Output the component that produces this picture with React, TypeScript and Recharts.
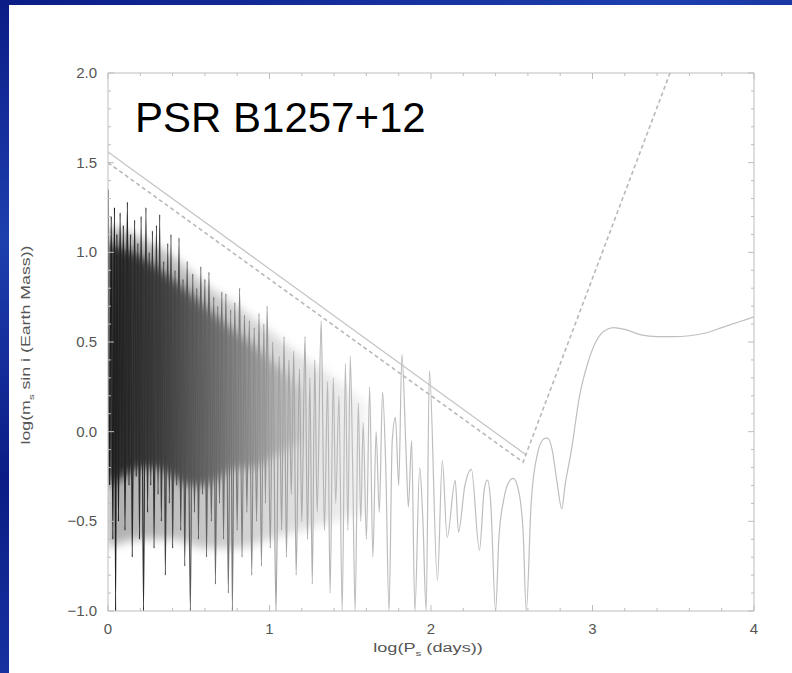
import { ComposedChart, Line, Area, XAxis, YAxis } from "recharts";

// sensitivity curve (log P, log m sin i)
const sensX = [
  0.0, 0.01, 0.02, 0.03, 0.04, 0.047, 0.055, 0.065, 0.075, 0.085, 0.095, 0.105,
  0.12, 0.13, 0.14, 0.15, 0.165, 0.175, 0.185, 0.195, 0.205, 0.22, 0.235, 0.245,
  0.255, 0.265, 0.275, 0.285, 0.3, 0.31, 0.32, 0.33, 0.345, 0.355, 0.37, 0.38,
  0.39, 0.4, 0.415, 0.425, 0.44, 0.45, 0.465, 0.475, 0.49, 0.51, 0.525, 0.535,
  0.55, 0.56, 0.575, 0.585, 0.6, 0.61, 0.625, 0.64, 0.655, 0.665, 0.68, 0.69,
  0.705, 0.715, 0.73, 0.745, 0.76, 0.77, 0.785, 0.8, 0.815, 0.83, 0.845, 0.86,
  0.875, 0.89, 0.905, 0.92, 0.935, 0.95, 0.965, 0.975, 0.985, 1.005, 1.02, 1.04,
  1.06, 1.075, 1.09, 1.105, 1.12, 1.135, 1.15, 1.165, 1.185, 1.2, 1.22, 1.235,
  1.25, 1.265, 1.28, 1.295, 1.32, 1.34, 1.36, 1.375, 1.395, 1.41, 1.43, 1.45,
  1.47, 1.485, 1.5, 1.515, 1.53, 1.55, 1.565, 1.58, 1.6, 1.62, 1.64, 1.66,
  1.68, 1.7, 1.72, 1.74, 1.76, 1.78, 1.8, 1.82, 1.845, 1.86, 1.88, 1.9,
  1.93, 1.95, 1.97, 1.99, 2.04, 2.07, 2.1, 2.15, 2.17, 2.21, 2.25, 2.3,
  2.33, 2.35, 2.37, 2.4, 2.42, 2.45, 2.49, 2.51, 2.54, 2.57, 2.59, 2.62,
  2.66, 2.7, 2.72, 2.75, 2.78, 2.81, 2.83, 2.87, 2.92, 2.97, 3.02, 3.07,
  3.13, 3.2, 3.3, 3.4, 3.5, 3.6, 3.7, 3.8, 3.9, 4.0,
];
const sensY = [
  1.35, -0.3, 1.2, -0.6, 1.25, -1.0, 1.1, -0.5, 1.22, -0.2, 1.15, -0.55,
  1.28, -0.3, 1.1, -0.7, 1.18, -0.25, 1.05, -0.6, 1.2, -1.0, 1.25, -0.45,
  1.0, -0.3, 1.12, -0.65, 1.15, -0.35, 1.21, -0.5, 0.95, -0.8, 1.05, -0.4,
  1.1, -0.65, 0.9, -0.3, 1.08, -0.55, 0.85, -0.75, 0.95, -1.0, 0.88, -0.45,
  0.8, -0.6, 0.92, -0.35, 0.85, -0.7, 0.89, -0.5, 0.75, -0.85, 0.7, -0.4,
  0.78, -0.6, 0.77, -0.9, 0.68, -1.0, 0.72, -0.55, 0.8, -0.7, 0.65, -0.45,
  0.62, -0.8, 0.58, -0.5, 0.66, -0.75, 0.6, -0.4, 0.7, -0.65, 0.5, -1.0,
  0.42, -0.55, 0.53, -0.7, 0.4, -0.35, 0.45, -0.8, 0.35, -0.5, 0.53, -0.6,
  0.3, -0.85, 0.4, -0.45, 0.62, -0.55, 0.28, -0.9, 0.3, -0.4, 0.2, -1.0,
  0.38, -0.55, 0.42, -0.2, -1.0, 0.16, -0.5, 0.05, -0.6, 0.25, -0.7, 0.0,
  -0.45, 0.22, -0.2, -1.0, -0.05, 0.08, -0.3, 0.43, -0.1, -0.42, -0.05, -1.0,
  -0.2, -0.5, -1.0, 0.34, -0.83, -0.16, -0.59, -0.27, -0.56, -0.3, -0.21, -0.66,
  -0.32, -0.27, -0.4, -1.0, -0.6, -0.38, -0.27, -0.26, -0.32, -0.55, -1.0, -0.4,
  -0.12, -0.04, -0.035, -0.1, -0.28, -0.43, -0.3, -0.1, 0.2, 0.38, 0.5, 0.56,
  0.58, 0.57, 0.54, 0.53, 0.53, 0.535, 0.55, 0.58, 0.61, 0.64,
];

// the dark, densely sampled mass at short periods
const coreX = [0, 0.1, 0.2, 0.3, 0.4, 0.5, 0.6, 0.7, 0.8, 0.9, 1.0, 1.1, 1.2];
const coreHi = [1.05, 1.02, 0.98, 0.92, 0.85, 0.78, 0.7, 0.62, 0.55, 0.48, 0.4, 0.32, 0.22];
const coreLo = [-0.3, -0.25, -0.2, -0.2, -0.25, -0.3, -0.3, -0.25, -0.2, -0.2, -0.15, -0.1, -0.05];

const hazeX = [0, 0.2, 0.4, 0.6, 0.8, 1.0, 1.2, 1.4, 1.6];
const hazeHi = [1.15, 1.08, 0.98, 0.82, 0.7, 0.56, 0.42, 0.3, 0.15];
const hazeLo = [-0.65, -0.6, -0.6, -0.65, -0.65, -0.6, -0.55, -0.5, -0.45];

// detection limit lines
const solidX = [0, 2.59];
const solidY = [1.56, -0.13];
const dashX = [0, 2.57, 3.48];
const dashY = [1.5, -0.17, 2.0];

const xTicks = [
  0, 0.2, 0.4, 0.6, 0.8, 1, 1.2, 1.4, 1.6, 1.8, 2, 2.2, 2.4, 2.6, 2.8, 3, 3.2,
  3.4, 3.6, 3.8, 4,
];
const yTicks = [
  -1, -0.9, -0.8, -0.7, -0.6, -0.5, -0.4, -0.3, -0.2, -0.1, 0, 0.1, 0.2, 0.3,
  0.4, 0.5, 0.6, 0.7, 0.8, 0.9, 1, 1.1, 1.2, 1.3, 1.4, 1.5, 1.6, 1.7, 1.8, 1.9, 2,
];

const sensData = sensX.map((x, i) => ({ x, y: sensY[i] }));
const coreData = coreX.map((x, i) => ({ x, band: [coreLo[i], coreHi[i]] }));
const hazeData = hazeX.map((x, i) => ({ x, band: [hazeLo[i], hazeHi[i]] }));
const solidData = solidX.map((x, i) => ({ x, y: solidY[i] }));
const dashData = dashX.map((x, i) => ({ x, y: dashY[i] }));

const FRAME = "#bdbdbd";
const TICK_TEXT = "#555";
const FONT = "'Liberation Sans', Arial, sans-serif";

const near = (a: number, b: number) => Math.abs(a - b) < 1e-6;
const isMajorX = (v: number) => near(v, Math.round(v));
const isMajorY = (v: number) => near(v * 2, Math.round(v * 2));
const fmtY = (v: number) => v.toFixed(1).replace("-", "\u2212");

function BottomTick(props: any) {
  const { x, y, payload } = props;
  const major = isMajorX(payload.value);
  return (
    <g>
      <line x1={x} y1={y} x2={x} y2={y - (major ? 6 : 3)} stroke={FRAME} />
      {major && (
        <text x={x} y={y + 23} textAnchor="middle" fontSize={15} fill={TICK_TEXT} fontFamily={FONT}>
          {payload.value}
        </text>
      )}
    </g>
  );
}

function TopTick(props: any) {
  const { x, y, payload } = props;
  const major = isMajorX(payload.value);
  return <line x1={x} y1={y} x2={x} y2={y + (major ? 6 : 3)} stroke={FRAME} />;
}

function LeftTick(props: any) {
  const { x, y, payload } = props;
  const major = isMajorY(payload.value);
  return (
    <g>
      <line x1={x} y1={y} x2={x + (major ? 6 : 3)} y2={y} stroke={FRAME} />
      {major && (
        <text x={x - 11} y={y + 5} textAnchor="end" fontSize={15} fill={TICK_TEXT} fontFamily={FONT}>
          {fmtY(payload.value)}
        </text>
      )}
    </g>
  );
}

function RightTick(props: any) {
  const { x, y, payload } = props;
  const major = isMajorY(payload.value);
  return <line x1={x} y1={y} x2={x - (major ? 6 : 3)} y2={y} stroke={FRAME} />;
}

export default function App() {
  return (
    <div
      style={{
        position: "absolute",
        left: 0,
        top: 0,
        width: 792,
        height: 673,
        overflow: "hidden",
        background:
          "linear-gradient(160deg, #0b1c86 0%, #1d3fae 25%, #0b1c86 50%, #1838a4 75%, #0b1c86 100%)",
      }}
    >
      <style>{`body{margin:0}`}</style>
      <div
        style={{
          position: "absolute",
          left: 9,
          top: 5,
          right: 0,
          bottom: 0,
          background: "#ffffff",
        }}
      />
      <div style={{ position: "absolute", left: 0, top: 0 }}>
        <ComposedChart
          width={792}
          height={673}
          margin={{ top: 53, right: 18, bottom: 32, left: 48 }}
        >
          <defs>
            <filter id="soft" x="-10%" y="-10%" width="120%" height="120%">
              <feGaussianBlur stdDeviation="5" />
            </filter>
            <linearGradient id="lineFade" x1="0" y1="0" x2="1" y2="0">
              <stop offset="0" stopColor="#1a1a1a" />
              <stop offset="0.08" stopColor="#3a3a3a" />
              <stop offset="0.18" stopColor="#707070" />
              <stop offset="0.26" stopColor="#a0a0a0" />
              <stop offset="0.36" stopColor="#bcbcbc" />
              <stop offset="1" stopColor="#c0c0c0" />
            </linearGradient>
            <linearGradient id="coreFade" x1="0" y1="0" x2="1" y2="0">
              <stop offset="0" stopColor="#101010" />
              <stop offset="0.3" stopColor="#2e2e2e" />
              <stop offset="0.55" stopColor="#5e5e5e" />
              <stop offset="0.8" stopColor="#959595" />
              <stop offset="1" stopColor="#c8c8c8" />
            </linearGradient>
            <linearGradient id="hazeFade" x1="0" y1="0" x2="1" y2="0">
              <stop offset="0" stopColor="#606060" />
              <stop offset="0.5" stopColor="#a0a0a0" />
              <stop offset="1" stopColor="#e6e6e6" />
            </linearGradient>
          </defs>
          <XAxis
            xAxisId="b"
            type="number"
            dataKey="x"
            domain={[0, 4]}
            ticks={xTicks}
            interval={0}
            tickSize={0}
            tickMargin={0}
            tickLine={false}
            stroke={FRAME}
            tick={<BottomTick />}
            height={30}
            allowDataOverflow
          />
          <XAxis
            xAxisId="t"
            orientation="top"
            type="number"
            dataKey="x"
            domain={[0, 4]}
            ticks={xTicks}
            interval={0}
            tickSize={0}
            tickMargin={0}
            tickLine={false}
            stroke={FRAME}
            tick={<TopTick />}
            height={20}
            allowDataOverflow
          />
          <YAxis
            yAxisId="l"
            type="number"
            domain={[-1, 2]}
            ticks={yTicks}
            interval={0}
            tickSize={0}
            tickMargin={0}
            tickLine={false}
            stroke={FRAME}
            tick={<LeftTick />}
            width={60}
            allowDataOverflow
          />
          <YAxis
            yAxisId="r"
            orientation="right"
            type="number"
            domain={[-1, 2]}
            ticks={yTicks}
            interval={0}
            tickSize={0}
            tickMargin={0}
            tickLine={false}
            stroke={FRAME}
            tick={<RightTick />}
            width={20}
            allowDataOverflow
          />
          <Area
            xAxisId="b"
            yAxisId="l"
            data={hazeData}
            dataKey="band"
            type="monotone"
            stroke="none"
            fill="url(#hazeFade)"
            fillOpacity={0.5}
            filter="url(#soft)"
            isAnimationActive={false}
          />
          <Area
            xAxisId="b"
            yAxisId="l"
            data={coreData}
            dataKey="band"
            type="monotone"
            stroke="none"
            fill="url(#coreFade)"
            fillOpacity={0.85}
            filter="url(#soft)"
            isAnimationActive={false}
          />
          <Line
            xAxisId="b"
            yAxisId="l"
            data={sensData}
            dataKey="y"
            type="monotone"
            stroke="url(#lineFade)"
            strokeWidth={1.2}
            dot={false}
            isAnimationActive={false}
          />
          <Line
            xAxisId="t"
            yAxisId="r"
            data={solidData}
            dataKey="y"
            type="linear"
            stroke="#c4c4c4"
            strokeWidth={1.3}
            dot={false}
            isAnimationActive={false}
          />
          <Line
            xAxisId="t"
            yAxisId="r"
            data={dashData}
            dataKey="y"
            type="linear"
            stroke="#b8b8b8"
            strokeWidth={1.6}
            strokeDasharray="4 3"
            dot={false}
            isAnimationActive={false}
          />
        </ComposedChart>
      </div>
      <div
        style={{
          position: "absolute",
          left: 135,
          top: 97,
          fontFamily: FONT,
          fontSize: 42,
          lineHeight: "42px",
          color: "#000",
          whiteSpace: "nowrap",
        }}
      >
        PSR B1257+12
      </div>
      <div
        style={{
          position: "absolute",
          left: 428,
          top: 651,
          transform: "translate(-50%, -50%) scaleX(1.45)",
          fontFamily: FONT,
          fontSize: 12.5,
          lineHeight: "14px",
          color: TICK_TEXT,
          whiteSpace: "nowrap",
        }}
      >
        log(P<sub style={{ fontSize: 8 }}>s</sub> (days))
      </div>
      <div
        style={{
          position: "absolute",
          left: 29,
          top: 345,
          transform: "translate(-50%, -50%) rotate(-90deg) scaleX(1.42)",
          fontFamily: FONT,
          fontSize: 12.5,
          lineHeight: "14px",
          color: TICK_TEXT,
          whiteSpace: "nowrap",
        }}
      >
        log(m<sub style={{ fontSize: 8 }}>s</sub> sin i (Earth Mass))
      </div>
    </div>
  );
}
